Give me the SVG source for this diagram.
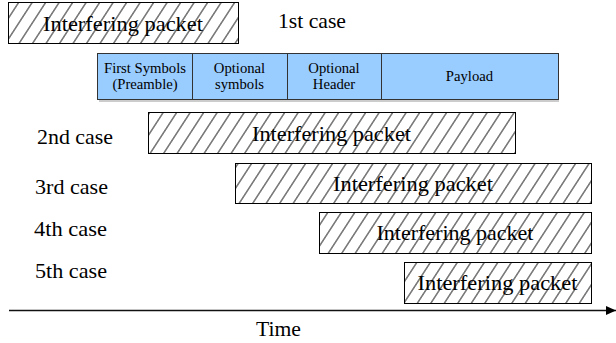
<svg xmlns="http://www.w3.org/2000/svg" width="616" height="343" viewBox="0 0 616 343">
<style>
  text { font-family: "Liberation Serif", "Times New Roman", serif; fill: #000; }
  .lbl { font-size: 21px; }
  .pkt { font-size: 21px; text-anchor: middle; }
  .seg { font-size: 14.7px; text-anchor: middle; }
  .hatch { fill: url(#hatch); stroke: #000; stroke-width: 1; }
  .blue { fill: #99ccff; stroke: #333; stroke-width: 1; }
</style>
<defs>
  <pattern id="hatch" patternUnits="userSpaceOnUse" width="13.5" height="10" patternTransform="skewX(-33)">
    <rect width="13.5" height="10" fill="#fff"/>
    <line x1="6.75" y1="-1" x2="6.75" y2="11" stroke="#000" stroke-width="1"/>
  </pattern>
  <marker id="arrow" markerWidth="10" markerHeight="9" refX="10" refY="4.5" orient="auto" markerUnits="userSpaceOnUse">
    <path d="M0,0 L10,4.5 L0,9 Z" fill="#000"/>
  </marker>
</defs>
<rect width="616" height="343" fill="#fff"/>

<g id="case1">
  <rect class="hatch" x="8.5" y="2.5" width="230" height="41"/>
  <text class="pkt" x="123" y="30.5" textLength="160" lengthAdjust="spacingAndGlyphs">Interfering packet</text>
</g>
<g id="label-1st">
  <text class="lbl" x="278" y="28" textLength="68" lengthAdjust="spacingAndGlyphs">1st case</text>
</g>

<g id="packet">
  <line x1="99" y1="101" x2="559" y2="101" stroke="#bbb" stroke-width="1.5"/>
  <g id="seg-preamble">
    <rect class="blue" x="97.5" y="53.5" width="95" height="46"/>
    <text class="seg" x="145" y="73">First Symbols</text>
    <text class="seg" x="145" y="88.5">(Preamble)</text>
  </g>
  <g id="seg-optsym">
    <rect class="blue" x="192.5" y="53.5" width="95" height="46"/>
    <text class="seg" x="239.5" y="73">Optional</text>
    <text class="seg" x="239.5" y="88.5">symbols</text>
  </g>
  <g id="seg-opthdr">
    <rect class="blue" x="287.5" y="53.5" width="94" height="46"/>
    <text class="seg" x="334" y="73">Optional</text>
    <text class="seg" x="334" y="88.5">Header</text>
  </g>
  <g id="seg-payload">
    <rect class="blue" x="381.5" y="53.5" width="177" height="46"/>
    <text class="seg" x="469.5" y="81">Payload</text>
  </g>
</g>

<g id="case2">
  <text class="lbl" x="37" y="144" textLength="76" lengthAdjust="spacingAndGlyphs">2nd case</text>
  <rect class="hatch" x="148.5" y="112.5" width="367" height="41"/>
  <text class="pkt" x="331.5" y="140.5" textLength="159" lengthAdjust="spacingAndGlyphs">Interfering packet</text>
</g>
<g id="case3">
  <text class="lbl" x="35" y="194" textLength="73" lengthAdjust="spacingAndGlyphs">3rd case</text>
  <rect class="hatch" x="235.5" y="163.5" width="356" height="40"/>
  <text class="pkt" x="413" y="191" textLength="160" lengthAdjust="spacingAndGlyphs">Interfering packet</text>
</g>
<g id="case4">
  <text class="lbl" x="34" y="236" textLength="73" lengthAdjust="spacingAndGlyphs">4th case</text>
  <rect class="hatch" x="319.5" y="212.5" width="272" height="41"/>
  <text class="pkt" x="455" y="240" textLength="157" lengthAdjust="spacingAndGlyphs">Interfering packet</text>
</g>
<g id="case5">
  <text class="lbl" x="35" y="278" textLength="72" lengthAdjust="spacingAndGlyphs">5th case</text>
  <rect class="hatch" x="404.5" y="262.5" width="187" height="41"/>
  <text class="pkt" x="497.5" y="290" textLength="160" lengthAdjust="spacingAndGlyphs">Interfering packet</text>
</g>

<g id="connectors">
  <line x1="9" y1="310.5" x2="616" y2="310.5" stroke="#111" stroke-width="1.5" marker-end="url(#arrow)"/>
</g>
<g id="axis-label">
  <text class="lbl" x="256" y="336" textLength="45" lengthAdjust="spacingAndGlyphs">Time</text>
</g>
</svg>
